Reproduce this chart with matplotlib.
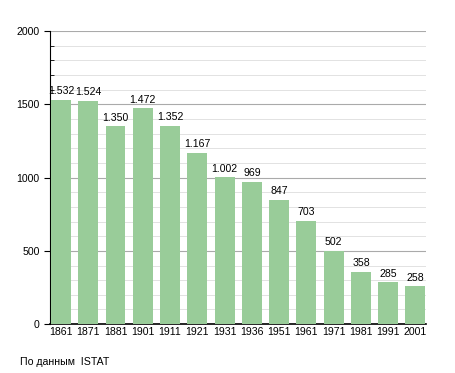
import matplotlib.pyplot as plt
from matplotlib.ticker import MultipleLocator

plt.rcParams['font.family'] = ['Liberation Sans', 'DejaVu Sans']

anni = ["1861", "1871", "1881", "1901", "1911", "1921", "1931",
        "1936", "1951", "1961", "1971", "1981", "1991", "2001"]
abitanti = [1532, 1524, 1350, 1472, 1352, 1167, 1002,
            969, 847, 703, 502, 358, 285, 258]

fig = plt.figure(figsize=(4.55, 3.73), dpi=100)
ax = fig.add_axes([0.110, 0.131, 0.827, 0.786])

x = range(len(anni))
barre = ax.bar(x, abitanti, width=0.73, color="#99cc99", linewidth=0, zorder=3)

for barra, v in zip(barre, abitanti):
    etichetta = f"{v:,}".replace(",", ".")
    ax.text(barra.get_x() + barra.get_width() / 2, v + 25, etichetta,
            ha="center", va="bottom", fontsize=7.6, zorder=4)

ax.set_xticks(list(x))
ax.set_xticklabels(anni, fontsize=7.6)
ax.set_xlim(-0.4, 13.4)
ax.set_ylim(0, 2000)
ax.yaxis.set_major_locator(MultipleLocator(500))
ax.yaxis.set_minor_locator(MultipleLocator(100))
ax.tick_params(axis="y", labelsize=7.6, length=4, width=0.8)
ax.tick_params(axis="y", which="minor", length=3, direction="in")
ax.tick_params(axis="x", length=0, pad=2)

ax.grid(axis="y", which="major", color="#aaaaaa", linewidth=0.8, zorder=0)
ax.grid(axis="y", which="minor", color="#dddddd", linewidth=0.6, zorder=0)

for lato in ["top", "right"]:
    ax.spines[lato].set_visible(False)
ax.spines["left"].set_linewidth(0.8)
ax.spines["bottom"].set_linewidth(1.2)

fig.text(20 / 455, 1 - 362 / 373, "По данным  ISTAT", fontsize=7.6, va="center")

fig.savefig("out.png", dpi=100)
